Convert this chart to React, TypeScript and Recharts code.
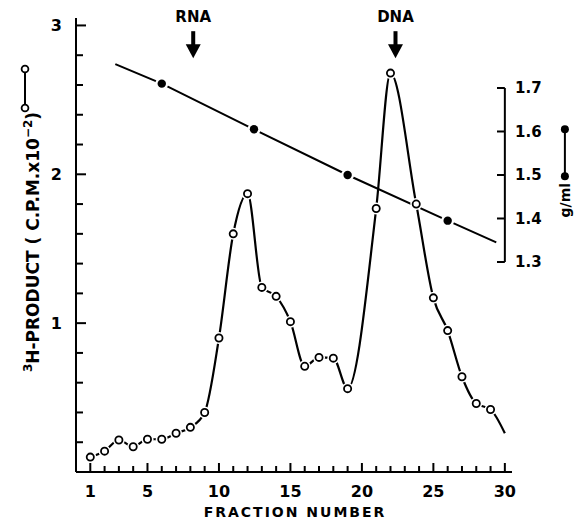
import React from 'react';
import { ComposedChart, Line, XAxis, YAxis, ReferenceLine, ReferenceDot } from 'recharts';

// Fraction axis (tick marks on every fraction, numbers on a few)
const fractionTicks = [1, 2, 3, 4, 5, 6, 7, 8, 9, 10, 11, 12, 13, 14, 15, 16, 17, 18, 19, 20, 21, 22, 23, 24, 25, 26, 27, 28, 29, 30];
const fractionLabels = [1, 5, 10, 15, 20, 25, 30];

// 3H-product axis, C.P.M. x 10^-2
const productTicks = [0.2, 0.4, 0.6, 0.8, 1, 1.2, 1.4, 1.6, 1.8, 2, 2.2, 2.4, 2.6, 2.8, 3];
const productLabels = [1, 2, 3];

// density axis, g/ml
const densityTicks = [1.3, 1.4, 1.5, 1.6, 1.7];

// open circles — last entry is only where the drawn curve runs out
const productFraction = [1, 2, 3, 4, 5, 6, 7, 8, 9, 10, 11, 12, 13, 14, 15, 16, 17, 18, 19, 21, 22, 23.8, 25, 26, 27, 28, 29, 30];
const productValue = [0.1, 0.14, 0.215, 0.17, 0.22, 0.22, 0.26, 0.3, 0.4, 0.9, 1.6, 1.87, 1.24, 1.18, 1.01, 0.71, 0.77, 0.765, 0.56, 1.77, 2.68, 1.8, 1.17, 0.95, 0.64, 0.46, 0.42, 0.26];
const productMarked = productFraction.map((f) => f !== 30);

// filled circles — first and last are the ends of the drawn line
const densityFraction = [2.75, 6, 12.45, 19, 26, 29.4];
const densityValue = [1.755, 1.71, 1.605, 1.5, 1.395, 1.345];
const densityMarked = [false, true, true, true, true, false];

// marker arrows above the peaks
const peakNames = ['RNA', 'DNA'];
const peakFractions = [8.2, 22.35];
const arrowTip = 2.78;

// where the g/ml key sits, right of the scale
const densityKeyAt = { x: 34.2, y: 1.55 };

const FONT = '"DejaVu Sans", sans-serif';

const productData = productFraction.map((x, i) => ({ x, y: productValue[i], marked: productMarked[i] }));
const densityData = densityFraction.map((x, i) => ({ x, d: densityValue[i], marked: densityMarked[i] }));

const OpenDot = (props: any) => {
  const { cx, cy, index, payload } = props;
  if (!payload.marked) return <g key={`o-${index}`} />;
  return (
    <g key={`o-${index}`}>
      <circle cx={cx} cy={cy} r={6} fill="#fff" stroke="none" />
      <circle cx={cx} cy={cy} r={3.6} fill="#fff" stroke="#000" strokeWidth={1.8} />
    </g>
  );
};

const FilledDot = (props: any) => {
  const { cx, cy, index, payload } = props;
  if (!payload.marked) return <g key={`f-${index}`} />;
  return (
    <g key={`f-${index}`}>
      <circle cx={cx} cy={cy} r={6.5} fill="#fff" stroke="none" />
      <circle cx={cx} cy={cy} r={4.2} fill="#000" stroke="none" />
    </g>
  );
};

const FractionTick = (props: any) => {
  const { x, y, payload } = props;
  const major = fractionLabels.includes(payload.value);
  return (
    <g>
      <line x1={x} x2={x} y1={y} y2={y - (major ? 9 : 6)} stroke="#000" strokeWidth={2} />
      {major && (
        <text x={x} y={y + 25} textAnchor="middle" fontSize={16} fontWeight="bold" fontFamily={FONT} fill="#000">
          {payload.value}
        </text>
      )}
    </g>
  );
};

const ProductTick = (props: any) => {
  const { x, y, payload } = props;
  const major = productLabels.includes(payload.value);
  return (
    <g>
      <line x1={x} x2={x + (major ? 10 : 7)} y1={y} y2={y} stroke="#000" strokeWidth={2} />
      {major && (
        <text x={x - 14} y={y + 6} textAnchor="end" fontSize={16} fontWeight="bold" fontFamily={FONT} fill="#000">
          {payload.value}
        </text>
      )}
    </g>
  );
};

const DensityTick = (props: any) => {
  const { x, y, payload } = props;
  return (
    <text x={x + 3} y={y + 5.5} textAnchor="start" fontSize={15} fontWeight="bold" fontFamily={FONT} fill="#000">
      {payload.value.toFixed(1)}
    </text>
  );
};

const FractionLabel = (props: any) => {
  const { viewBox } = props;
  return (
    <text
      x={viewBox.x + viewBox.width / 2 + 1}
      y={viewBox.y + 45}
      textAnchor="middle"
      fontSize={14}
      fontWeight="bold"
      letterSpacing={2}
      fontFamily={FONT}
      fill="#000"
    >
      FRACTION NUMBER
    </text>
  );
};

const ProductLabel = (props: any) => {
  const { viewBox } = props;
  const cx = viewBox.x + viewBox.width - 37;
  const cy = viewBox.y + viewBox.height / 2 - 3;
  return (
    <g>
      <text
        x={cx}
        y={cy}
        transform={`rotate(-90 ${cx} ${cy})`}
        textAnchor="middle"
        fontSize={17}
        fontWeight="bold"
        fontFamily={FONT}
        fill="#000"
      >
        <tspan fontSize={12} dy={-7}>3</tspan>
        <tspan dy={7}>H-PRODUCT ( C.P.M.x10</tspan>
        <tspan fontSize={12} dy={-7}>−2</tspan>
        <tspan dy={7}>)</tspan>
      </text>
      <line x1={cx - 14} x2={cx - 14} y1={cy - 173} y2={cy - 134} stroke="#000" strokeWidth={2} />
      <circle cx={cx - 14} cy={cy - 173} r={3.4} fill="#fff" stroke="#000" strokeWidth={1.8} />
      <circle cx={cx - 14} cy={cy - 134} r={3.4} fill="#fff" stroke="#000" strokeWidth={1.8} />
    </g>
  );
};

const DensityKey = (props: any) => {
  const { cx, cy } = props;
  const tx = cx + 5;
  const ty = cy + 47;
  return (
    <g>
      <text
        x={tx}
        y={ty}
        transform={`rotate(-90 ${tx} ${ty})`}
        textAnchor="middle"
        fontSize={14}
        fontWeight="bold"
        fontFamily={FONT}
        fill="#000"
      >
        g/ml
      </text>
      <line x1={cx} x2={cx} y1={cy - 24} y2={cy + 23} stroke="#000" strokeWidth={2} />
      <circle cx={cx} cy={cy - 24} r={4} fill="#000" />
      <circle cx={cx} cy={cy + 23} r={4} fill="#000" />
    </g>
  );
};

const Arrow = (name: string) => (props: any) => {
  const { cx, cy } = props;
  return (
    <g>
      <text x={cx} y={cy - 36} textAnchor="middle" fontSize={15} fontWeight="bold" fontFamily={FONT} fill="#000">
        {name}
      </text>
      <rect x={cx - 2} y={cy - 27} width={4} height={15} fill="#000" />
      <polygon points={`${cx - 7.5},${cy - 14} ${cx + 7.5},${cy - 14} ${cx},${cy}`} fill="#000" />
    </g>
  );
};

export default function App() {
  return (
    <div style={{ position: 'fixed', left: 0, top: 0, width: 574, height: 523, background: '#fff', overflow: 'hidden' }}>
      <ComposedChart width={574} height={523} margin={{ top: 18, right: 0, bottom: 0, left: 0 }}>
        <XAxis
          xAxisId="f"
          dataKey="x"
          type="number"
          domain={[0, 30.5]}
          ticks={fractionTicks}
          interval={0}
          allowDataOverflow
          height={51}
          tickSize={0}
          tickMargin={0}
          tickLine={false}
          tick={FractionTick}
          axisLine={{ stroke: '#000', strokeWidth: 2 }}
          label={FractionLabel}
        />
        <YAxis
          yAxisId="p"
          type="number"
          domain={[0, 3.05]}
          ticks={productTicks}
          interval={0}
          allowDataOverflow
          width={76}
          tickSize={0}
          tickMargin={0}
          tickLine={false}
          tick={ProductTick}
          axisLine={{ stroke: '#000', strokeWidth: 2 }}
          label={ProductLabel}
        />
        <YAxis
          yAxisId="d"
          orientation="right"
          type="number"
          domain={[0.8172, 1.8609]}
          ticks={densityTicks}
          interval={0}
          allowDataOverflow
          width={62}
          tickSize={0}
          tickMargin={0}
          tickLine={false}
          axisLine={false}
          tick={DensityTick}
        />

        {/* right-hand density scale drawn inside the plot at fraction 30 */}
        <ReferenceLine
          xAxisId="f"
          yAxisId="d"
          segment={[{ x: 30, y: densityTicks[0] }, { x: 30, y: densityTicks[densityTicks.length - 1] }]}
          stroke="#000"
          strokeWidth={2}
          ifOverflow="visible"
        />
        {densityTicks.map((v) => (
          <ReferenceLine
            key={`dt-${v}`}
            xAxisId="f"
            yAxisId="d"
            segment={[{ x: 29.45, y: v }, { x: 30, y: v }]}
            stroke="#000"
            strokeWidth={2}
            ifOverflow="visible"
          />
        ))}
        <ReferenceDot
          xAxisId="f"
          yAxisId="d"
          x={densityKeyAt.x}
          y={densityKeyAt.y}
          ifOverflow="visible"
          shape={DensityKey}
        />

        <Line
          xAxisId="f"
          yAxisId="d"
          data={densityData}
          dataKey="d"
          type="linear"
          stroke="#000"
          strokeWidth={2}
          dot={FilledDot}
          activeDot={false}
          isAnimationActive={false}
        />
        <Line
          xAxisId="f"
          yAxisId="p"
          data={productData}
          dataKey="y"
          type="monotone"
          stroke="#000"
          strokeWidth={2.2}
          dot={OpenDot}
          activeDot={false}
          isAnimationActive={false}
        />

        {peakNames.map((name, i) => (
          <ReferenceDot
            key={name}
            xAxisId="f"
            yAxisId="p"
            x={peakFractions[i]}
            y={arrowTip}
            ifOverflow="visible"
            shape={Arrow(name)}
          />
        ))}
      </ComposedChart>
    </div>
  );
}
